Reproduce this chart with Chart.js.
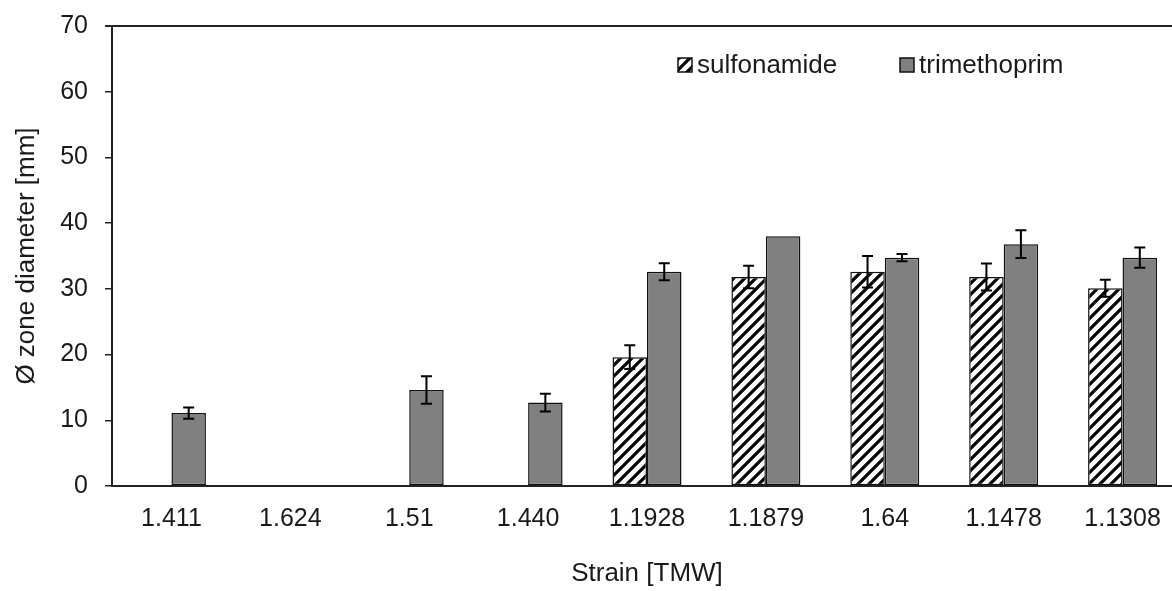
<!DOCTYPE html>
<html>
<head>
<meta charset="utf-8">
<script src="https://cdn.jsdelivr.net/npm/chart.js@4.4.1/dist/chart.umd.min.js"></script>
<style>
  html, body { margin: 0; padding: 0; background: #fff; overflow: hidden; }
  #wrap { width: 1172px; height: 591px; overflow: hidden; }
</style>
</head>
<body>
<div id="wrap"><canvas id="zonechart" width="1182" height="591"></canvas></div>
<script>
const strains = ['1.411', '1.624', '1.51', '1.440', '1.1928', '1.1879', '1.64', '1.1478', '1.1308'];
const sulfonamide = [null, null, null, null, 19.6, 31.8, 32.6, 31.8, 30.1];
const sulfonamideErr = [0, 0, 0, 0, 1.8, 1.7, 2.4, 2.05, 1.3];
const trimethoprim = [11.1, null, 14.6, 12.7, 32.6, 38.0, 34.75, 36.8, 34.75];
const trimethoprimErr = [0.85, 0, 2.1, 1.35, 1.3, 0, 0.55, 2.1, 1.55];
const yTicks = [0, 10, 20, 30, 40, 50, 60, 70];

const fontFamily = '"Liberation Sans", Arial, sans-serif';
const textColor = '#1a1a1a';

// diagonal hatch for the sulfonamide bars
function makeHatch() {
    var n = 11;
    var c = document.createElement('canvas');
    c.width = n;
    c.height = n;
    var g = c.getContext('2d');
    g.fillStyle = '#fff';
    g.fillRect(0, 0, n, n);
    g.strokeStyle = '#000';
    g.lineWidth = 3.2;
    g.beginPath();
    g.moveTo(-2, n + 2); g.lineTo(n + 2, -2);
    g.moveTo(-2, 2); g.lineTo(2, -2);
    g.moveTo(n - 2, n + 2); g.lineTo(n + 2, n - 2);
    g.stroke();
    return g.createPattern(c, 'repeat');
}
const hatch = makeHatch();

const errorBars = {
    id: 'errorBars',
    afterDatasetsDraw(chart) {
        var ctx = chart.ctx;
        var y = chart.scales.y;
        ctx.save();
        ctx.strokeStyle = '#000';
        ctx.lineWidth = 2;
        chart.data.datasets.forEach(function (ds, i) {
            var meta = chart.getDatasetMeta(i);
            meta.data.forEach(function (bar, j) {
                var v = ds.data[j];
                var e = ds.errors[j];
                if (v == null || !e) return;
                var yt = y.getPixelForValue(v + e);
                var yb = y.getPixelForValue(v - e);
                var x = bar.x;
                ctx.beginPath();
                ctx.moveTo(x, yt); ctx.lineTo(x, yb);
                ctx.moveTo(x - 5.5, yt); ctx.lineTo(x + 5.5, yt);
                ctx.moveTo(x - 5.5, yb); ctx.lineTo(x + 5.5, yb);
                ctx.stroke();
            });
        });
        ctx.restore();
    }
};

const frameAndLegend = {
    id: 'frameAndLegend',
    afterDraw(chart) {
        var ctx = chart.ctx;
        var a = chart.chartArea;
        ctx.save();
        ctx.strokeStyle = '#222';
        ctx.lineWidth = 2;
        ctx.beginPath();
        ctx.moveTo(a.left - 7, a.top);
        ctx.lineTo(a.right, a.top);
        ctx.stroke();

        var items = [
            { x: 678, ds: chart.data.datasets[0] },
            { x: 900, ds: chart.data.datasets[1] }
        ];
        ctx.font = '26px ' + fontFamily;
        ctx.textBaseline = 'middle';
        items.forEach(function (it) {
            ctx.fillStyle = it.ds.backgroundColor;
            ctx.fillRect(it.x, 58, 14, 14);
            ctx.strokeStyle = '#111';
            ctx.lineWidth = 1.5;
            ctx.strokeRect(it.x, 58, 14, 14);
            ctx.fillStyle = textColor;
            ctx.fillText(it.ds.label, it.x + 19, 66);
        });
        ctx.restore();
    }
};

new Chart(document.getElementById('zonechart'), {
    type: 'bar',
    data: {
        labels: strains,
        datasets: [{
            label: 'sulfonamide',
            data: sulfonamide,
            errors: sulfonamideErr,
            backgroundColor: hatch,
            borderColor: '#111',
            borderWidth: 1.5,
            borderSkipped: false
        }, {
            label: 'trimethoprim',
            data: trimethoprim,
            errors: trimethoprimErr,
            backgroundColor: '#808080',
            borderColor: '#111',
            borderWidth: 1.5,
            borderSkipped: false
        }]
    },
    options: {
        responsive: false,
        animation: false,
        layout: { padding: { top: 26, left: 0, right: 0, bottom: 0 } },
        plugins: {
            legend: { display: false },
            tooltip: { enabled: false }
        },
        datasets: {
            bar: { categoryPercentage: 0.58, barPercentage: 1.0 }
        },
        scales: {
            x: {
                grid: { display: false, drawTicks: false },
                border: { display: true, color: '#222', width: 2 },
                ticks: {
                    color: textColor,
                    padding: 18,
                    font: { family: fontFamily, size: 25 },
                    maxRotation: 0
                },
                title: {
                    display: true,
                    text: 'Strain [TMW]',
                    color: textColor,
                    font: { family: fontFamily, size: 26 },
                    padding: { top: 0, bottom: 2 }
                },
                afterFit(s) { s.height = 105; }
            },
            y: {
                min: 0,
                max: 70,
                afterBuildTicks(s) { s.ticks = yTicks.map(function (v) { return { value: v }; }); },
                grid: { drawOnChartArea: false, drawTicks: true, tickLength: 7, color: '#222', lineWidth: 1.5 },
                border: { display: true, color: '#222', width: 2 },
                ticks: {
                    color: textColor,
                    padding: 17,
                    font: { family: fontFamily, size: 25 }
                },
                title: {
                    display: true,
                    text: 'Ø zone diameter [mm]',
                    color: textColor,
                    font: { family: fontFamily, size: 26 },
                    padding: { top: 11, bottom: 0 }
                },
                afterFit(s) {
                    s.width = 112;
                    s.paddingTop = 0;
                    s.paddingBottom = 0;
                }
            }
        }
    },
    plugins: [errorBars, frameAndLegend]
});
</script>
</body>
</html>
